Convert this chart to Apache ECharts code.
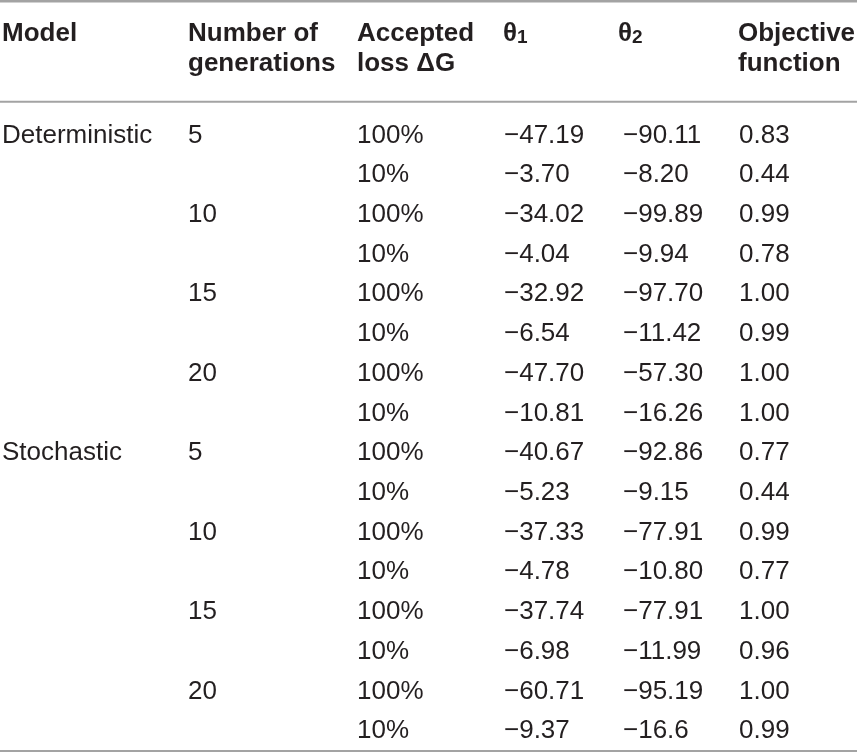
<!DOCTYPE html>
<html>
<head>
<meta charset="utf-8">
<script src="https://cdn.jsdelivr.net/npm/echarts@6/dist/echarts.min.js"></script>
<style>
  html, body { margin: 0; padding: 0; background: #fff; }
  #main { width: 857px; height: 753px; }
</style>
</head>
<body>
<div id="main"></div>
<script>
// table data
const models = ['Deterministic', 'Stochastic']
const generations = [5, 10, 15, 20]
const acceptedLoss = ['100%', '10%']
const theta1 = ['-47.19', '-3.70', '-34.02', '-4.04', '-32.92', '-6.54', '-47.70', '-10.81',
  '-40.67', '-5.23', '-37.33', '-4.78', '-37.74', '-6.98', '-60.71', '-9.37']
const theta2 = ['-90.11', '-8.20', '-99.89', '-9.94', '-97.70', '-11.42', '-57.30', '-16.26',
  '-92.86', '-9.15', '-77.91', '-10.80', '-77.91', '-11.99', '-95.19', '-16.6']
const objective = ['0.83', '0.44', '0.99', '0.78', '1.00', '0.99', '1.00', '1.00',
  '0.77', '0.44', '0.99', '0.77', '1.00', '0.96', '1.00', '0.99']

// header text, one entry per column (second line may be empty)
const headLine1 = ['Model', 'Number of', 'Accepted', '\u03b8', '\u03b8', 'Objective']
const headLine2 = ['', 'generations', 'loss \u0394G', '', '', 'function']
const headSub = ['', '', '', '1', '2', '']

// layout
const colX = [2, 188, 357, 504, 623, 739]
const headX = [2, 188, 357, 503, 618, 738]
const FONT = '"Liberation Sans", Arial, sans-serif'
const INK = '#231f20'
const RULE = '#a3a3a3'

const fmt = (s) => s.replace('-', '\u2212')

// build rows
const rows = []
models.forEach((m, mi) => {
  generations.forEach((g, gi) => {
    acceptedLoss.forEach((a, ai) => {
      const i = rows.length
      rows.push([
        gi === 0 && ai === 0 ? m : '',
        ai === 0 ? String(g) : '',
        a,
        fmt(theta1[i]),
        fmt(theta2[i]),
        objective[i]
      ])
    })
  })
})

const chart = echarts.init(document.getElementById('main'))

const graphic = [
  { type: 'line', shape: { x1: 0, y1: 1.3, x2: 857, y2: 1.3 }, style: { stroke: RULE, lineWidth: 2.6 } },
  { type: 'line', shape: { x1: 0, y1: 101.7, x2: 857, y2: 101.7 }, style: { stroke: RULE, lineWidth: 2 } }
]
headLine1.forEach((t, c) => {
  graphic.push({
    type: 'text', x: headX[c], y: 33.5,
    style: { text: t, fontSize: 26, fontWeight: 'bold', fontFamily: FONT, fill: INK, verticalAlign: 'middle' }
  })
  if (headLine2[c]) {
    graphic.push({
      type: 'text', x: headX[c], y: 63.5,
      style: { text: headLine2[c], fontSize: 26, fontWeight: 'bold', fontFamily: FONT, fill: INK, verticalAlign: 'middle' }
    })
  }
  if (headSub[c]) {
    graphic.push({
      type: 'text', x: headX[c] + 14, y: 38,
      style: { text: headSub[c], fontSize: 19, fontWeight: 'bold', fontFamily: FONT, fill: INK, verticalAlign: 'middle' }
    })
  }
})

chart.setOption({
  animation: false,
  grid: { left: 0, right: 0, top: 115.5, bottom: 2 },
  xAxis: {
    type: 'value', min: 0, max: 857,
    axisLine: { show: true, onZero: false, lineStyle: { color: RULE, width: 2 } },
    axisTick: { show: false },
    axisLabel: { show: false },
    splitLine: { show: false }
  },
  yAxis: {
    type: 'category', inverse: true,
    data: rows.map((r, i) => String(i)),
    show: false
  },
  graphic: graphic,
  series: [{
    type: 'custom',
    data: rows.map((r, i) => [0, i]),
    encode: { x: 0, y: 1 },
    renderItem: (params, api) => {
      const idx = api.value(1)
      const cells = rows[idx]
      return {
        type: 'group',
        children: cells.map((txt, c) => {
          const p = api.coord([colX[c], idx])
          return {
            type: 'text', x: p[0], y: p[1],
            style: { text: txt, fontSize: 26, fontFamily: FONT, fill: INK, align: 'left', verticalAlign: 'middle' }
          }
        })
      }
    }
  }]
})

window.addEventListener('resize', () => {
  chart.resize()
})
</script>
</body>
</html>
